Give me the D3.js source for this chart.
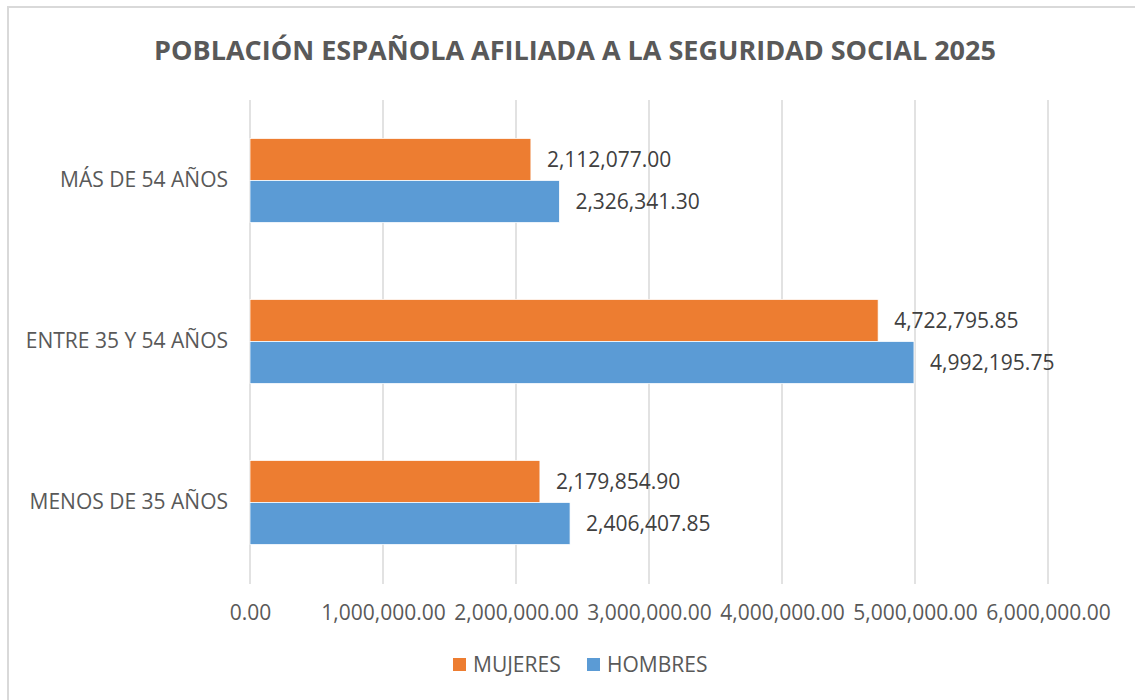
<!DOCTYPE html>
<html>
<head>
<meta charset="utf-8">
<script src="https://cdn.jsdelivr.net/npm/d3@7"></script>
<style>
    body { margin: 0; background: #ffffff; }
    svg text { font-family: "Open Sans", "Noto Sans", Arial, sans-serif; }
</style>
</head>
<body>
<div id="chart"></div>
<script>
// Población española afiliada a la Seguridad Social 2025
// Horizontal grouped bars, two series per age group

var categories = ["MÁS DE 54 AÑOS", "ENTRE 35 Y 54 AÑOS", "MENOS DE 35 AÑOS"];
var seriesNames = ["MUJERES", "HOMBRES"];
var mujeres = [2112077.00, 4722795.85, 2179854.90];
var hombres = [2326341.30, 4992195.75, 2406407.85];
var xTicks = [0, 1000000, 2000000, 3000000, 4000000, 5000000, 6000000];

(function() {

    var width = 1135;
    var height = 700;

    var colors = {
        "MUJERES": "#ed7d31",
        "HOMBRES": "#5b9bd5"
    };

    var rows = categories.map(function(c, i) {
        return { category: c, values: [mujeres[i], hombres[i]] };
    });

    var svg = d3.select("#chart")
        .append("svg")
        .attr("width", width)
        .attr("height", height);

    svg.append("rect")
        .attr("width", width)
        .attr("height", height)
        .attr("fill", "#ffffff");

    // Chart frame (cut off on the right and bottom in the original)
    svg.append("path")
        .attr("d", "M8," + height + " L8,7 L" + width + ",7")
        .attr("fill", "none")
        .attr("stroke", "#d9d9d9")
        .attr("stroke-width", 2);

    // Title
    svg.append("text")
        .attr("x", 575)
        .attr("y", 60)
        .attr("text-anchor", "middle")
        .attr("fill", "#595959")
        .attr("font-size", "27px")
        .attr("font-weight", "bold")
        .text("POBLACIÓN ESPAÑOLA AFILIADA A LA SEGURIDAD SOCIAL 2025");

    var x = d3.scaleLinear()
        .domain([0, 6000000])
        .range([250, 1048]);

    var y = d3.scaleBand()
        .domain(categories)
        .range([100, 583])
        .paddingInner(0.478)
        .paddingOuter(0.239);

    var ySub = d3.scaleBand()
        .domain(seriesNames)
        .range([0, y.bandwidth()]);

    // Gridlines
    svg.append("g")
        .selectAll("line")
        .data(xTicks)
        .enter()
        .append("line")
        .attr("x1", function(d) { return x(d); })
        .attr("x2", function(d) { return x(d); })
        .attr("y1", 100)
        .attr("y2", 584)
        .attr("stroke", "#d9d9d9")
        .attr("stroke-width", 1.5);

    // X axis labels
    var xAxis = d3.axisBottom(x)
        .tickValues(xTicks)
        .tickSize(0)
        .tickPadding(0)
        .tickFormat(d3.format(",.2f"));

    var xg = svg.append("g")
        .attr("transform", "translate(0,605)")
        .call(xAxis);

    xg.select(".domain").remove();
    xg.selectAll("text")
        .attr("fill", "#595959")
        .attr("font-size", "21px")
        .attr("dy", "0.71em");

    // Y axis labels
    var yAxis = d3.axisLeft(y)
        .tickSize(0)
        .tickPadding(22);

    var yg = svg.append("g")
        .attr("transform", "translate(250,0)")
        .call(yAxis);

    yg.select(".domain").remove();
    yg.selectAll("text")
        .attr("fill", "#595959")
        .attr("font-size", "21px");

    // Bars
    var groups = svg.append("g")
        .selectAll(".group")
        .data(rows)
        .enter()
        .append("g")
        .attr("class", "group")
        .attr("transform", function(d) {
            return "translate(0," + y(d.category) + ")";
        });

    var bars = groups.selectAll(".bar")
        .data(function(d) {
            return d.values.map(function(v, i) {
                return { series: seriesNames[i], value: v };
            });
        })
        .enter();

    bars.append("rect")
        .attr("class", "bar")
        .attr("x", x(0))
        .attr("y", function(d) { return ySub(d.series); })
        .attr("width", function(d) { return x(d.value) - x(0); })
        .attr("height", ySub.bandwidth())
        .attr("fill", function(d) { return colors[d.series]; })
        .attr("stroke", "#ffffff")
        .attr("stroke-width", 0.75);

    // Value labels
    bars.append("text")
        .attr("x", function(d) { return x(d.value) + 16; })
        .attr("y", function(d) { return ySub(d.series) + ySub.bandwidth() / 2; })
        .attr("dy", "0.35em")
        .attr("fill", "#404040")
        .attr("font-size", "21px")
        .text(function(d) { return d3.format(",.2f")(d.value); });

    // Legend
    var legend = svg.append("g")
        .attr("transform", "translate(453,658)");

    var legendX = [0, 134];

    var item = legend.selectAll(".item")
        .data(seriesNames)
        .enter()
        .append("g")
        .attr("class", "item")
        .attr("transform", function(d, i) {
            return "translate(" + legendX[i] + ",0)";
        });

    item.append("rect")
        .attr("width", 13)
        .attr("height", 13)
        .attr("fill", function(d) { return colors[d]; });

    item.append("text")
        .attr("x", 20)
        .attr("y", 7)
        .attr("dy", "0.35em")
        .attr("fill", "#595959")
        .attr("font-size", "21px")
        .text(function(d) { return d; });

})();
</script>
</body>
</html>
